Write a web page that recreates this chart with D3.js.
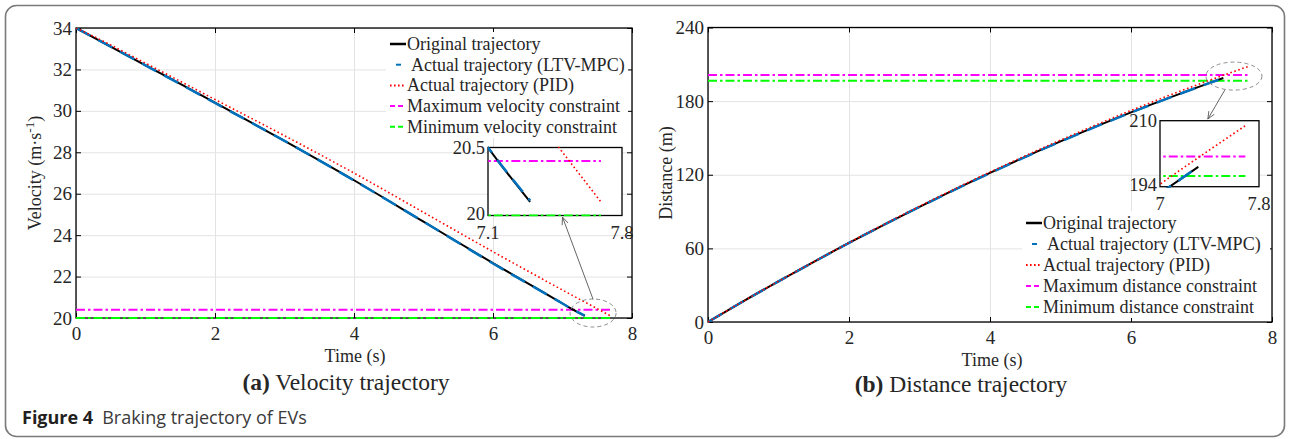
<!DOCTYPE html>
<html>
<head>
<meta charset="utf-8">
<script src="https://cdn.jsdelivr.net/npm/d3@7"></script>
<style>
  body { margin: 0; background: #fff; }
  svg text { font-family: "Liberation Serif", "Times New Roman", serif; fill: #262626; }
  text.cap { font-family: "Open Sans", "Noto Sans", sans-serif; }
</style>
</head>
<body>
<svg class="chart" width="1289" height="439"></svg>
<script>
// ---- data ----
const velTimeOrig = [0, 0.25, 1, 2, 3, 4, 5, 6, 7, 7.1, 7.32];
const velOrig = [34, 33.55, 32.2, 30.4, 28.55, 26.65, 24.65, 22.65, 20.7, 20.5, 20.1];
const velTimeMpc = [0, 0.25, 1, 2, 3, 4, 5, 6, 7, 7.1, 7.32];
const velMpc = [34, 33.55, 32.2, 30.38, 28.55, 26.64, 24.65, 22.63, 20.7, 20.5, 20.11];
const velTimePid = [0, 0.25, 1, 2, 3, 4, 5, 6, 7, 7.47, 7.69];
const velPid = [34, 33.6, 32.3, 30.55, 28.8, 27.0, 25.1, 23.2, 21.35, 20.5, 20.1];
const velMax = 20.4;
const velMin = 20.0;

const distTimeOrig = [0, 0.5, 1, 2, 3, 4, 5, 6, 7, 7.31];
const distOrig = [0, 16.9, 33.1, 64.4, 93.9, 121.5, 147.2, 170.8, 192.4, 198.8];
const distTimeMpc = [0, 0.5, 1, 2, 3, 4, 5, 6, 7, 7.31];
const distMpc = [0, 16.9, 33.1, 64.4, 93.8, 121.4, 147.1, 170.7, 192.4, 198.8];
const distTimePid = [0, 0.5, 1, 2, 3, 4, 5, 6, 7, 7.69];
const distPid = [0, 16.95, 33.2, 64.6, 94.3, 122.2, 148.2, 172.4, 194.6, 208.8];
const distMax = 201.3;
const distMin = 196.6;
const constraintEnd = 7.69;

const xTicks = [0, 2, 4, 6, 8];
const velTicks = [20, 22, 24, 26, 28, 30, 32, 34];
const distTicks = [0, 60, 120, 180, 240];

const legendLeft = ["Original trajectory", "Actual trajectory (LTV-MPC)", "Actual trajectory (PID)",
  "Maximum velocity constraint", "Minimum velocity constraint"];
const legendRight = ["Original trajectory", "Actual trajectory (LTV-MPC)", "Actual trajectory (PID)",
  "Maximum distance constraint", "Minimum distance constraint"];

const svg = d3.select(".chart");

const styles = [
  { stroke: "#000000", width: 2, dash: null },
  { stroke: "#0072BD", width: 2.5, dash: "16,9" },
  { stroke: "#FF0000", width: 1.6, dash: "1.6,2.6" },
  { stroke: "#FF00FF", width: 2, dash: "9,3,2.5,3" },
  { stroke: "#00FF00", width: 2, dash: "9,3,2.5,3" }
];

// outer frame
svg.append("rect")
  .attr("x", 5.5).attr("y", 5.5).attr("width", 1279).attr("height", 431)
  .attr("rx", 11).attr("fill", "none").attr("stroke", "#7a7a7a").attr("stroke-width", 1.6);

const zip = (a, b) => a.map((v, i) => [v, b[i]]);

function drawSeries(g, x, y, sets, hLines, tEnd, curve) {
  const line = d3.line().x((d) => x(d[0])).y((d) => y(d[1]));
  hLines.forEach((h, i) => {
    const s = styles[3 + i];
    g.append("path")
      .attr("d", line.curve(d3.curveLinear)([[0, h], [tEnd, h]]))
      .attr("fill", "none").attr("stroke", s.stroke).attr("stroke-width", s.width)
      .attr("stroke-dasharray", s.dash);
  });
  line.curve(curve);
  sets.forEach((pts, i) => {
    const s = styles[i];
    g.append("path")
      .attr("d", line(pts))
      .attr("fill", "none").attr("stroke", s.stroke).attr("stroke-width", s.width)
      .attr("stroke-dasharray", s.dash);
  });
}

function drawPanel(cfg) {
  const { x, y, yTicks } = cfg;
  const [x0, x1] = x.range();
  const [y0, y1] = y.range();
  const g = svg.append("g");

  // grid
  g.append("g").attr("transform", `translate(0,${y0})`)
    .call(d3.axisBottom(x).tickValues(xTicks).tickSize(-(y0 - y1)).tickFormat(""))
    .call((a) => a.select(".domain").remove())
    .selectAll("line").attr("stroke", "#e3e3e3");
  g.append("g").attr("transform", `translate(${x0},0)`)
    .call(d3.axisLeft(y).tickValues(yTicks).tickSize(-(x1 - x0)).tickFormat(""))
    .call((a) => a.select(".domain").remove())
    .selectAll("line").attr("stroke", "#e3e3e3");

  // axes (inward ticks, box)
  const axes = g.append("g");
  const bottom = axes.append("g").attr("transform", `translate(0,${y0})`)
    .call(d3.axisBottom(x).tickValues(xTicks).tickSizeInner(-5).tickSizeOuter(0).tickPadding(9));
  const left = axes.append("g").attr("transform", `translate(${x0},0)`)
    .call(d3.axisLeft(y).tickValues(yTicks).tickSizeInner(-5).tickSizeOuter(0).tickPadding(4));
  axes.append("g").attr("transform", `translate(0,${y1})`)
    .call(d3.axisTop(x).tickValues(xTicks).tickSizeInner(-5).tickSizeOuter(0).tickFormat(""));
  axes.append("g").attr("transform", `translate(${x1},0)`)
    .call(d3.axisRight(y).tickValues(yTicks).tickSizeInner(-5).tickSizeOuter(0).tickFormat(""));
  axes.selectAll(".domain").remove();
  axes.selectAll(".tick line").attr("stroke", "#000");
  [bottom, left].forEach((a) => a.selectAll("text")
    .attr("font-family", "Liberation Serif").attr("font-size", 19).attr("fill", "#262626"));
  axes.append("rect").attr("x", x0).attr("y", y1).attr("width", x1 - x0).attr("height", y0 - y1)
    .attr("fill", "none").attr("stroke", "#000").attr("stroke-width", 1.3);

  const clipId = "clip" + cfg.id;
  svg.append("clipPath").attr("id", clipId).append("rect")
    .attr("x", x0).attr("y", y1).attr("width", x1 - x0).attr("height", y0 - y1 + 2);
  const plot = g.append("g").attr("clip-path", `url(#${clipId})`);
  drawSeries(plot, x, y, cfg.sets, cfg.hLines, constraintEnd, d3.curveMonotoneX);

  // axis labels and caption
  g.append("text").attr("x", cfg.xLabel[0]).attr("y", cfg.xLabel[1])
    .attr("text-anchor", "middle").attr("font-size", 18).text("Time (s)");
  const yl = g.append("text")
    .attr("transform", `translate(${cfg.yLabel[0]},${cfg.yLabel[1]}) rotate(-90)`)
    .attr("text-anchor", "middle").attr("font-size", 18);
  cfg.yLabelParts.forEach((p) => {
    const t = yl.append("tspan").text(p.t);
    if (p.sup) t.attr("dy", -7).attr("font-size", 13);
    if (p.back) t.attr("dy", 7);
  });
  const cap = g.append("text").attr("x", cfg.caption[0]).attr("y", cfg.caption[1])
    .attr("text-anchor", "middle").attr("font-size", 23.5);
  cap.append("tspan").attr("font-weight", "bold").text(cfg.captionTag);
  cap.append("tspan").text(" " + cfg.captionText);

  // legend
  const L = cfg.legend;
  g.append("rect").attr("x", L.box[0]).attr("y", L.box[1]).attr("width", L.box[2]).attr("height", L.box[3])
    .attr("fill", "#fff");
  cfg.legendLabels.forEach((lab, i) => {
    const yy = L.y0 + i * L.dy;
    const s = styles[i];
    let xa = L.x, xb = L.x + 16, dash = null;
    if (i === 1) { xa = L.x + 6; xb = L.x + 11; }
    if (i === 2) dash = "1.6,2.4";
    if (i >= 3) { xb = L.x + 13; dash = "5,3"; }
    g.append("line").attr("x1", xa).attr("x2", xb).attr("y1", yy).attr("y2", yy)
      .attr("stroke", s.stroke).attr("stroke-width", i === 0 ? 2.5 : 2).attr("stroke-dasharray", dash);
    g.append("text").attr("x", L.x + 17 + (i === 1 ? 4 : 0)).attr("y", yy + 6)
      .attr("font-size", 18).text(lab);
  });

  // inset
  const I = cfg.inset;
  const ix = d3.scaleLinear().domain(I.xd).range(I.xr);
  const iy = d3.scaleLinear().domain(I.yd).range(I.yr);
  g.append("rect").attr("x", I.xr[0]).attr("y", I.yr[1]).attr("width", I.xr[1] - I.xr[0])
    .attr("height", I.yr[0] - I.yr[1]).attr("fill", "#fff");
  g.append("rect").attr("x", I.xr[0]).attr("y", I.yr[1]).attr("width", I.xr[1] - I.xr[0])
    .attr("height", I.yr[0] - I.yr[1]).attr("fill", "none").attr("stroke", "#000").attr("stroke-width", 1.3);
  const iclip = "iclip" + cfg.id;
  svg.append("clipPath").attr("id", iclip).append("rect")
    .attr("x", I.xr[0]).attr("y", I.yr[1] - 1).attr("width", I.xr[1] - I.xr[0])
    .attr("height", I.yr[0] - I.yr[1] + 2);
  drawSeries(g.append("g").attr("clip-path", `url(#${iclip})`), ix, iy, cfg.sets, cfg.hLines,
    constraintEnd, d3.curveMonotoneX);
  I.yd.forEach((v, i) => g.append("text").attr("x", I.xr[0] - 3).attr("y", iy(v) + (i === 0 ? 4 : 6))
    .attr("text-anchor", "end").attr("font-size", 18.5).text(I.yLabels[i]));
  I.xd.forEach((v, i) => g.append("text").attr("x", ix(v)).attr("y", I.yr[0] + 23)
    .attr("text-anchor", "middle").attr("font-size", 18.5).text(I.xLabels[i]));

  // zoom ellipse and arrow
  const E = cfg.ellipse;
  g.append("ellipse").attr("cx", x(E.t)).attr("cy", y(E.v)).attr("rx", E.rx).attr("ry", E.ry)
    .attr("fill", "none").attr("stroke", "#8c8c8c").attr("stroke-width", 1).attr("stroke-dasharray", "4,3");
  const A = cfg.arrow;
  const ax0 = x(A.from[0]), ay0 = y(A.from[1]), ax1 = x(A.to[0]), ay1 = y(A.to[1]);
  g.append("line").attr("x1", ax0).attr("y1", ay0).attr("x2", ax1).attr("y2", ay1)
    .attr("stroke", "#555").attr("stroke-width", 0.9);
  const ang = Math.atan2(ay1 - ay0, ax1 - ax0);
  const hl = 8, hw = 0.4;
  const p1 = [ax1 - hl * Math.cos(ang - hw), ay1 - hl * Math.sin(ang - hw)];
  const p2 = [ax1 - hl * Math.cos(ang + hw), ay1 - hl * Math.sin(ang + hw)];
  g.append("path").attr("d", `M${p1}L${ax1},${ay1}L${p2}`)
    .attr("fill", "none").attr("stroke", "#555").attr("stroke-width", 0.9);
}

drawPanel({
  id: "a",
  x: d3.scaleLinear().domain([0, 8]).range([76, 632]),
  y: d3.scaleLinear().domain([20, 34]).range([318, 28]),
  yTicks: velTicks,
  sets: [zip(velTimeOrig, velOrig), zip(velTimeMpc, velMpc), zip(velTimePid, velPid)],
  hLines: [velMax, velMin],
  xLabel: [355, 362],
  yLabel: [41, 173],
  yLabelParts: [{ t: "Velocity (m·s" }, { t: "-1", sup: true }, { t: ")", back: true }],
  caption: [346, 390],
  captionTag: "(a)",
  captionText: "Velocity trajectory",
  legendLabels: legendLeft,
  legend: { x: 390, y0: 44, dy: 20.7, box: [386, 32, 242, 106] },
  inset: { xd: [7.1, 7.8], yd: [20, 20.5], xr: [488, 622], yr: [215.5, 147.5],
    xLabels: ["7.1", "7.8"], yLabels: ["20", "20.5"] },
  ellipse: { t: 7.44, v: 20.24, rx: 23, ry: 14 },
  arrow: { from: [7.44, 20.9], to: [7.0, 24.87] }
});

drawPanel({
  id: "b",
  x: d3.scaleLinear().domain([0, 8]).range([708, 1272]),
  y: d3.scaleLinear().domain([0, 240]).range([322, 27.5]),
  yTicks: distTicks,
  sets: [zip(distTimeOrig, distOrig), zip(distTimeMpc, distMpc), zip(distTimePid, distPid)],
  hLines: [distMax, distMin],
  xLabel: [992, 366],
  yLabel: [672, 173],
  yLabelParts: [{ t: "Distance (m)" }],
  caption: [961, 392],
  captionTag: "(b)",
  captionText: "Distance trajectory",
  legendLabels: legendRight,
  legend: { x: 1026, y0: 223, dy: 21, box: [1022, 211, 248, 107] },
  inset: { xd: [7, 7.8], yd: [194, 210], xr: [1160, 1259], yr: [186.7, 120.7],
    xLabels: ["7", "7.8"], yLabels: ["194", "210"] },
  ellipse: { t: 7.46, v: 200.4, rx: 28, ry: 14 },
  arrow: { from: [7.33, 189], to: [7.09, 165.4] }
});

// figure caption
const fig = svg.append("text").attr("class", "cap").attr("x", 22).attr("y", 424).attr("font-size", 18);
fig.append("tspan").attr("font-weight", "bold").attr("fill", "#231f20").text("Figure 4");
fig.append("tspan").attr("dx", 9).attr("fill", "#3a3a3a").text("Braking trajectory of EVs");
</script>
</body>
</html>
